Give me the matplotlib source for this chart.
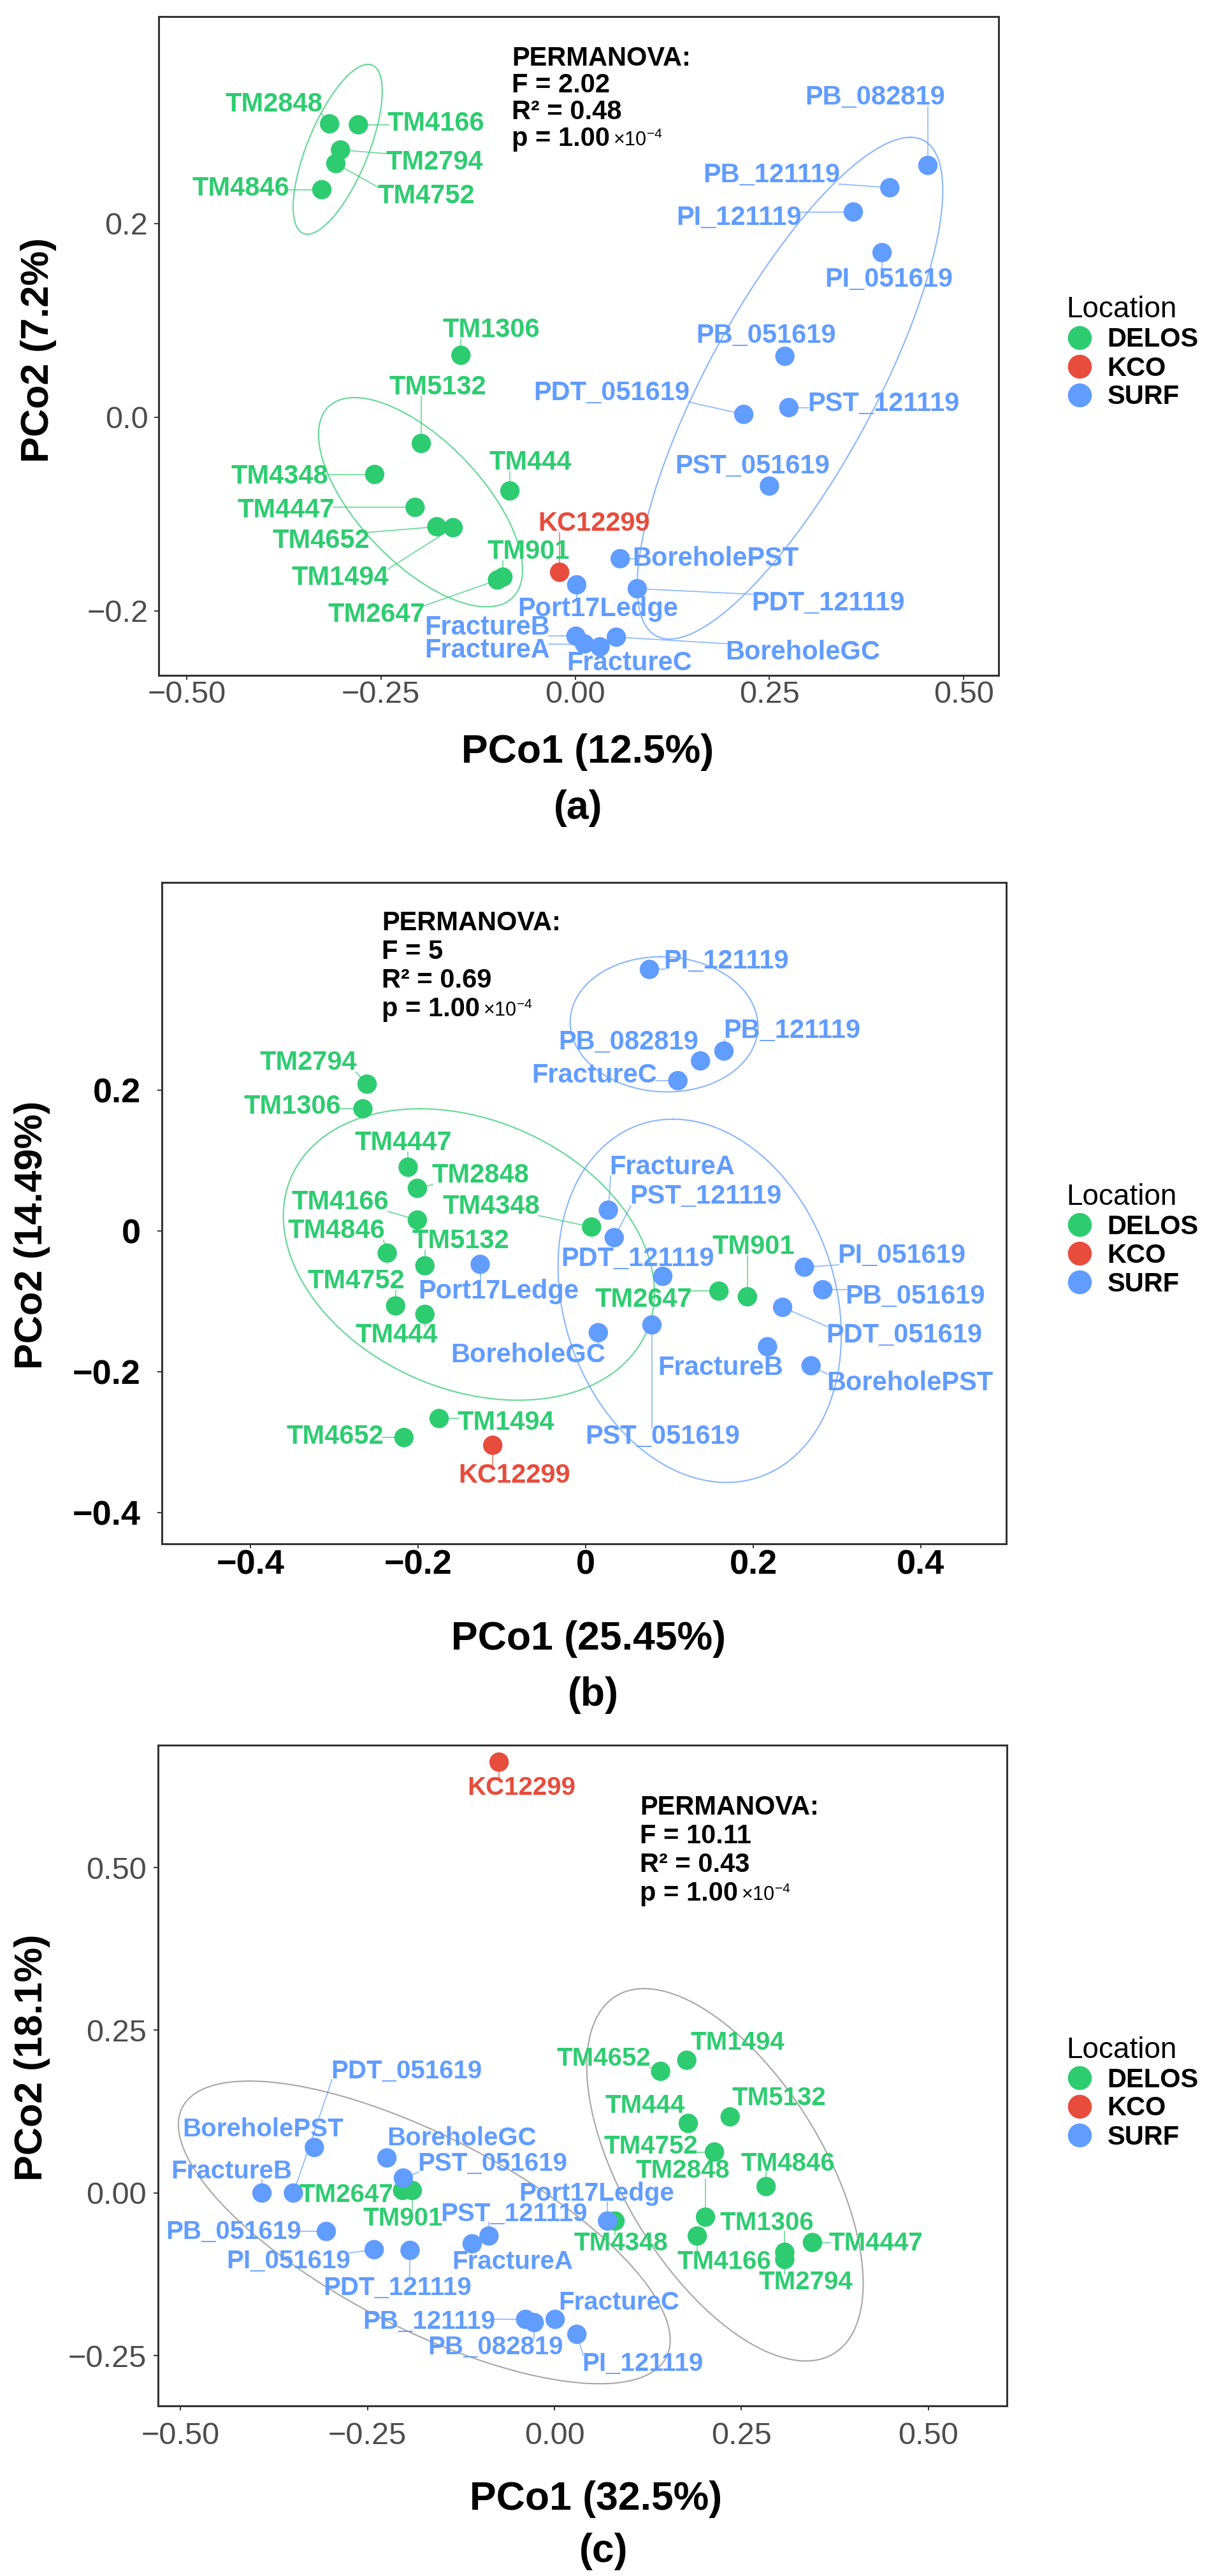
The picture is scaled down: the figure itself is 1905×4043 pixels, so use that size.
import numpy as np
import matplotlib.pyplot as plt
from matplotlib.lines import Line2D

plt.rcParams['font.family'] = ['Liberation Sans', 'DejaVu Sans']
plt.rcParams['axes.unicode_minus'] = True

W, H = 1906, 4043
pal = {'DELOS': '#2ECC71', 'KCO': '#E74C3C', 'SURF': '#619CFF'}
groups = ['DELOS', 'KCO', 'SURF']

# ---------------- panel (a) ----------------
a_names = ['TM2848', 'TM4166', 'TM2794', 'TM4752', 'TM4846', 'TM1306', 'TM5132', 'TM4348',
           'TM444', 'TM4447', 'TM4652', 'TM1494', 'TM901', 'TM2647', 'KC12299',
           'PB_082819', 'PB_121119', 'PI_121119', 'PI_051619', 'PB_051619', 'PDT_051619',
           'PST_121119', 'PST_051619', 'BoreholePST', 'PDT_121119', 'Port17Ledge',
           'FractureB', 'FractureA', 'FractureC', 'BoreholeGC']
a_loc = ['DELOS'] * 14 + ['KCO'] + ['SURF'] * 15
a_x = [-0.316, -0.279, -0.302, -0.308, -0.326, -0.147, -0.198, -0.258,
       -0.084, -0.206, -0.178, -0.157, -0.093, -0.100, -0.020,
       0.454, 0.405, 0.358, 0.395, 0.270, 0.217,
       0.275, 0.250, 0.058, 0.080, 0.002,
       0.001, 0.012, 0.032, 0.053]
a_y = [0.303, 0.302, 0.276, 0.262, 0.235, 0.064, -0.027, -0.059,
       -0.076, -0.093, -0.113, -0.114, -0.165, -0.168, -0.160,
       0.260, 0.237, 0.212, 0.170, 0.063, 0.003,
       0.010, -0.071, -0.146, -0.177, -0.173,
       -0.226, -0.234, -0.237, -0.227]
a_lx = [-0.388, -0.179, -0.181, -0.192, -0.430, -0.108, -0.177, -0.380,
        -0.058, -0.372, -0.327, -0.302, -0.060, -0.256, 0.024,
        0.386, 0.253, 0.211, 0.404, 0.246, 0.047,
        0.397, 0.228, 0.181, 0.326, 0.029,
        -0.113, -0.113, 0.070, 0.293]
a_ly = [0.323, 0.303, 0.263, 0.228, 0.236, 0.090, 0.031, -0.061,
        -0.047, -0.096, -0.128, -0.166, -0.139, -0.204, -0.110,
        0.330, 0.250, 0.206, 0.142, 0.084, 0.025,
        0.014, -0.051, -0.146, -0.192, -0.198,
        -0.217, -0.241, -0.254, -0.243]
# ellipse: group, centre x, centre y, top vector x, top vector y, half width at centre
a_ell = [('DELOS', -0.3056, 0.2767, 0.039, 0.0877, 0.042),
         ('DELOS', -0.199, -0.0877, -0.085, 0.108, 0.100),
         ('SURF', 0.2765, 0.030, 0.155, 0.259, 0.121)]
a_perm = ['PERMANOVA:', 'F = 2.02', 'R\u00b2 = 0.48', 'p = 1.00']

# ---------------- panel (b) ----------------
b_names = ['TM2794', 'TM1306', 'TM4447', 'TM2848', 'TM4166', 'TM4348', 'TM4846', 'TM5132',
           'TM4752', 'TM444', 'TM2647', 'TM901', 'TM1494', 'TM4652', 'KC12299',
           'PI_121119', 'PB_121119', 'PB_082819', 'FractureC', 'FractureA', 'PST_121119',
           'Port17Ledge', 'PDT_121119', 'PI_051619', 'PB_051619', 'PDT_051619',
           'PST_051619', 'BoreholeGC', 'FractureB', 'BoreholePST']
b_loc = ['DELOS'] * 14 + ['KCO'] + ['SURF'] * 15
b_x = [-0.261, -0.266, -0.212, -0.201, -0.201, 0.007, -0.237, -0.192,
       -0.227, -0.192, 0.159, 0.193, -0.175, -0.217, -0.111,
       0.076, 0.165, 0.137, 0.110, 0.027, 0.034,
       -0.126, 0.092, 0.261, 0.283, 0.235,
       0.079, 0.015, 0.217, 0.269]
b_y = [0.209, 0.174, 0.091, 0.061, 0.016, 0.006, -0.031, -0.049,
       -0.106, -0.118, -0.085, -0.093, -0.266, -0.293, -0.304,
       0.372, 0.256, 0.242, 0.214, 0.030, -0.009,
       -0.047, -0.064, -0.051, -0.083, -0.108,
       -0.133, -0.144, -0.164, -0.191]
b_lx = [-0.331, -0.350, -0.218, -0.126, -0.293, -0.113, -0.298, -0.149,
        -0.274, -0.226, 0.069, 0.200, -0.095, -0.299, -0.085,
        0.168, 0.246, 0.051, 0.010, 0.103, 0.143,
        -0.104, 0.062, 0.377, 0.393, 0.380,
        0.092, -0.069, 0.161, 0.387]
b_ly = [0.239, 0.177, 0.125, 0.079, 0.041, 0.035, 0.000, -0.014,
        -0.071, -0.148, -0.097, -0.022, -0.272, -0.292, -0.347,
        0.383, 0.285, 0.268, 0.221, 0.091, 0.049,
        -0.086, -0.039, -0.035, -0.093, -0.148,
        -0.292, -0.176, -0.194, -0.216]
b_ell = [('SURF', 0.0935, 0.294, -0.0035, 0.096, 0.112),
         ('DELOS', -0.1395, -0.033, -0.0585, 0.207, 0.2136),
         ('SURF', 0.136, -0.0988, -0.032, 0.258, 0.166)]
b_perm = ['PERMANOVA:', 'F = 5', 'R\u00b2 = 0.69', 'p = 1.00']

# ---------------- panel (c) ----------------
c_names = ['TM4652', 'TM1494', 'TM444', 'TM5132', 'TM4752', 'TM4846', 'TM2848', 'TM4348',
           'TM4166', 'TM1306', 'TM2794', 'TM4447', 'TM2647', 'TM901', 'KC12299',
           'BoreholePST', 'FractureB', 'PDT_051619', 'BoreholeGC', 'PST_051619',
           'PB_051619', 'PI_051619', 'PDT_121119', 'PST_121119', 'FractureA',
           'Port17Ledge', 'PB_121119', 'PB_082819', 'FractureC', 'PI_121119']
c_loc = ['DELOS'] * 14 + ['KCO'] + ['SURF'] * 15
c_x = [0.142, 0.177, 0.179, 0.235, 0.214, 0.283, 0.202, 0.081,
       0.191, 0.308, 0.308, 0.345, -0.203, -0.190, -0.074,
       -0.321, -0.391, -0.349, -0.224, -0.202,
       -0.305, -0.241, -0.193, -0.0875, -0.110,
       0.071, -0.0385, -0.027, 0.001, 0.030]
c_y = [0.187, 0.204, 0.107, 0.117, 0.063, 0.010, -0.037, -0.043,
       -0.066, -0.091, -0.102, -0.076, 0.004, 0.004, 0.662,
       0.070, 0.000, 0.000, 0.054, 0.023,
       -0.059, -0.087, -0.088, -0.066, -0.078,
       -0.043, -0.194, -0.199, -0.194, -0.217]
c_lx = [0.066, 0.245, 0.121, 0.300, 0.129, 0.3125, 0.172, 0.089,
        0.227, 0.284, 0.336, 0.430, -0.278, -0.203, -0.044,
        -0.390, -0.432, -0.198, -0.124, -0.083,
        -0.429, -0.356, -0.210, -0.054, -0.056,
        0.056, -0.168, -0.079, 0.086, 0.118]
c_ly = [0.206, 0.231, 0.134, 0.146, 0.071, 0.045, 0.034, -0.077,
        -0.106, -0.046, -0.137, -0.077, -0.003, -0.039, 0.622,
        0.098, 0.033, 0.187, 0.084, 0.045,
        -0.060, -0.105, -0.146, -0.032, -0.106,
        -0.001, -0.198, -0.237, -0.168, -0.262]
c_ell = [('SURF', -0.174, -0.0605, -0.234, 0.2325, 0.231),
         ('DELOS', 0.228, 0.028, -0.108, 0.286, 0.150)]
c_perm = ['PERMANOVA:', 'F = 10.11', 'R\u00b2 = 0.43', 'p = 1.00']

fig = plt.figure(figsize=(W / 100, H / 100), dpi=100)


def px_box(left, right, top, bottom):
    return [left / W, 1 - bottom / H, (right - left) / W, (bottom - top) / H]


def panel(box, x, y, names, loc, lx, ly, ells, grey, xlim, ylim, xt, xtl, yt, ytl,
          bold_ticks, xpad, ypad, perm, perm_xy, perm_dy, xlab, ylab, tag,
          xlab_pos, tag_pos, ylab_pos, leg_y, lab_size):
    ax = fig.add_axes(box)
    ax.set_xlim(*xlim)
    ax.set_ylim(*ylim)
    for s in ax.spines.values():
        s.set_linewidth(2.2)
        s.set_color('#333333')
    ax.set_xticks(xt)
    ax.set_xticklabels(xtl)
    ax.set_yticks(yt)
    ax.set_yticklabels(ytl)
    if bold_ticks:
        ax.tick_params(labelsize=39, labelcolor='black')
        for lab in ax.get_xticklabels() + ax.get_yticklabels():
            lab.set_fontweight('bold')
    else:
        ax.tick_params(labelsize=35, labelcolor='#4D4D4D')
    ax.tick_params(length=5, width=1.4, color='#333333')
    ax.tick_params(axis='x', pad=xpad)
    ax.tick_params(axis='y', pad=ypad)

    t = np.linspace(0, 2 * np.pi, 300)
    for g, cx, cy, ux, uy, h in ells:
        col = '#A6A6A6' if grey else pal[g]
        ax.plot(cx + ux * np.cos(t) + h * np.sin(t), cy + uy * np.cos(t),
                color=col, lw=1.5, alpha=0.75 if not grey else 1, zorder=1)

    ax.scatter(x, y, s=480, c=[pal[g] for g in loc], edgecolors='none', zorder=3)
    texts = []
    for n, g, tx, ty in zip(names, loc, lx, ly):
        texts.append(ax.text(tx, ty, n, ha='center', va='center', fontsize=lab_size,
                             fontweight='bold', color=pal[g], zorder=4))

    for i, line in enumerate(perm):
        tp = ax.annotate(line, xy=perm_xy, xycoords='data', xytext=(0, -i * perm_dy),
                         textcoords='offset pixels', ha='left', va='baseline',
                         fontsize=30, fontweight='bold', color='black', zorder=5)
    ax.annotate(r'$\mathregular{\times10^{-4}}$', xy=(1, 0), xycoords=tp,
                xytext=(5, 9), textcoords='offset pixels', ha='left', va='baseline',
                fontsize=22, color='black', zorder=5)

    fig.text(xlab_pos[0] / W, 1 - xlab_pos[1] / H, xlab, ha='center', va='center',
             fontsize=45, fontweight='bold')
    fig.text(tag_pos[0] / W, 1 - tag_pos[1] / H, tag, ha='center', va='center',
             fontsize=45, fontweight='bold')
    fig.text(ylab_pos[0] / W, 1 - ylab_pos[1] / H, ylab, ha='center', va='center',
             rotation=90, fontsize=44, fontweight='bold')

    handles = [Line2D([], [], marker='o', ls='', color=pal[g], markersize=27,
                      markeredgewidth=0) for g in groups]
    fig.legend(handles, groups, loc='center left', bbox_to_anchor=(1673 / W, 1 - leg_y / H),
               frameon=False, title='Location', title_fontsize=33,
               prop={'size': 30, 'weight': 'bold'}, handlelength=1.0, handletextpad=0.55,
               labelspacing=0.12, borderpad=0, borderaxespad=0, alignment='left')
    return ax, texts


specs = [
    dict(box=px_box(249, 1567, 26, 1060), x=a_x, y=a_y, names=a_names, loc=a_loc,
         lx=a_lx, ly=a_ly, ells=a_ell, grey=False,
         xlim=(-0.536, 0.545), ylim=(-0.2665, 0.4137),
         xt=[-0.5, -0.25, 0, 0.25, 0.5], xtl=['\u22120.50', '\u22120.25', '0.00', '0.25', '0.50'],
         yt=[-0.2, 0, 0.2], ytl=['\u22120.2', '0.0', '0.2'], bold_ticks=False,
         xpad=1, ypad=7, perm=a_perm, perm_xy=(-0.0816, 0.363), perm_dy=42,
         xlab='PCo1 (12.5%)', ylab='PCo2 (7.2%)', tag='(a)',
         xlab_pos=(922, 1180), tag_pos=(907, 1268), ylab_pos=(61, 549), leg_y=554,
         lab_size=30),
    dict(box=px_box(254, 1579, 1385, 2423), x=b_x, y=b_y, names=b_names, loc=b_loc,
         lx=b_lx, ly=b_ly, ells=b_ell, grey=False,
         xlim=(-0.506, 0.502), ylim=(-0.444, 0.4955),
         xt=[-0.4, -0.2, 0, 0.2, 0.4], xtl=['\u22120.4', '\u22120.2', '0', '0.2', '0.4'],
         yt=[-0.4, -0.2, 0, 0.2], ytl=['\u22120.4', '\u22120.2', '0', '0.2'], bold_ticks=True,
         xpad=1, ypad=19, perm=b_perm, perm_xy=(-0.2437, 0.428), perm_dy=45,
         xlab='PCo1 (25.45%)', ylab='PCo2 (14.49%)', tag='(b)',
         xlab_pos=(924, 2572), tag_pos=(931, 2661), ylab_pos=(51, 1938), leg_y=1946,
         lab_size=30),
    dict(box=px_box(248, 1580, 2739, 3776), x=c_x, y=c_y, names=c_names, loc=c_loc,
         lx=c_lx, ly=c_ly, ells=c_ell, grey=True,
         xlim=(-0.530, 0.605), ylim=(-0.327, 0.688),
         xt=[-0.5, -0.25, 0, 0.25, 0.5], xtl=['\u22120.50', '\u22120.25', '0.00', '0.25', '0.50'],
         yt=[-0.25, 0, 0.25, 0.5], ytl=['\u22120.25', '0.00', '0.25', '0.50'], bold_ticks=False,
         xpad=13, ypad=8, perm=c_perm, perm_xy=(0.1146, 0.581), perm_dy=45,
         xlab='PCo1 (32.5%)', ylab='PCo2 (18.1%)', tag='(c)',
         xlab_pos=(935, 3922), tag_pos=(947, 4004), ylab_pos=(51, 3229), leg_y=3285,
         lab_size=29),
]

made = [panel(**s) for s in specs]

# connector segments from each point to its label, like ggrepel
fig.canvas.draw()
renderer = fig.canvas.get_renderer()
for (ax, texts), s in zip(made, specs):
    for tx, px, py, g in zip(texts, s['x'], s['y'], s['loc']):
        bb = tx.get_window_extent(renderer)
        P = ax.transData.transform((px, py))
        qx = min(max(P[0], bb.x0 + 2), bb.x1 - 2)
        qy = min(max(P[1], bb.y0 + 6), bb.y1 - 6)
        if np.hypot(qx - P[0], qy - P[1]) > 18:
            Q = ax.transData.inverted().transform((qx, qy))
            ax.plot([px, Q[0]], [py, Q[1]], color=pal[g], lw=1.1, alpha=0.8, zorder=2)

fig.savefig('out.png', dpi=100)
